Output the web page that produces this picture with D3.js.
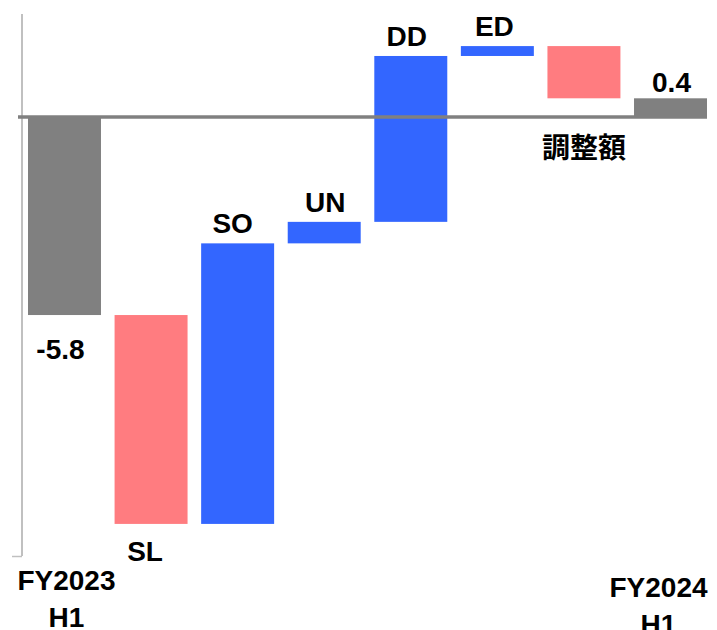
<!DOCTYPE html>
<html>
<head>
<meta charset="utf-8">
<script src="https://cdn.jsdelivr.net/npm/d3@7"></script>
<style>
  html, body { margin: 0; padding: 0; background: #fff; }
  svg { display: block; }
  .lbl { font-family: "Liberation Sans", Arial, sans-serif; font-weight: bold; font-size: 28px; fill: #000; }
  .cjk { font-family: "Noto Sans CJK JP", "Noto Sans CJK SC", sans-serif; font-weight: bold; font-size: 28px; fill: #000; }
</style>
</head>
<body>
<svg id="chart" width="717" height="630"></svg>
<script>
// ---- data ----
const categories = ["FY2023 H1", "SL", "SO", "UN", "DD", "ED", "調整額", "FY2024 H1"];
const kinds      = ["total", "delta", "delta", "delta", "delta", "delta", "delta", "total"];
const values     = [-5.8, -6.12, 8.22, 0.63, 4.86, 0.29, -1.53, null]; // last = running total
const valueLabels = ["-5.8", null, null, null, null, null, null, "0.4"];
const categoryLines = [["FY2023", "H1"], ["SL"], ["SO"], ["UN"], ["DD"], ["ED"], ["調整額"], ["FY2024", "H1"]];

const colors = { total: "#808080", up: "#3366ff", down: "#ff7c80" };

// ---- build waterfall segments ----
let running = 0;
const bars = categories.map((c, i) => {
  let y0, y1, type;
  if (kinds[i] === "total") {
    const v = values[i] === null ? running : values[i];
    running = v;
    y0 = 0; y1 = v; type = "total";
  } else {
    y0 = running; y1 = running + values[i]; running = y1;
    type = values[i] >= 0 ? "up" : "down";
  }
  return { cat: c, i, y0, y1, type, lo: Math.min(y0, y1), hi: Math.max(y0, y1) };
});

const svg = d3.select("#chart");
const x = d3.scaleBand().domain(categories).range([28, 707]).paddingInner(0.157).paddingOuter(0);
const y = d3.scaleLinear().domain([-12.86, 3.02]).range([556, 14]);

// label horizontal nudges (layout only)
const labelDx = [2, -6, -5, 1, -4, -3, 0, -12];

// y axis (no labels)
const yAxis = d3.axisLeft(y).tickValues([-12.86]).tickSize(10).tickFormat("");
const ga = svg.append("g").attr("transform", "translate(22,0)").call(yAxis);
ga.select(".domain").attr("stroke", "#c0c0c0").attr("stroke-width", 2).attr("d", `M0,${y(3.02)}V${y(-12.86)}`);
ga.selectAll(".tick line").attr("stroke", "#c0c0c0").attr("stroke-width", 1.5);

// bars
svg.append("g").selectAll("rect").data(bars).join("rect")
  .attr("x", d => x(d.cat))
  .attr("width", x.bandwidth())
  .attr("y", d => y(d.hi))
  .attr("height", d => y(d.lo) - y(d.hi))
  .attr("fill", d => colors[d.type]);

// zero line
svg.append("line")
  .attr("x1", 18).attr("x2", 707)
  .attr("y1", y(0)).attr("y2", y(0))
  .attr("stroke", "#808080").attr("stroke-width", 3.5);

const cx = d => x(d.cat) + x.bandwidth() / 2;

// value labels for totals
bars.forEach(d => {
  const t = valueLabels[d.i];
  if (!t) return;
  const neg = d.y1 < 0;
  svg.append("text").attr("class", "lbl")
    .attr("x", cx(d) - (neg ? 4 : -1))
    .attr("y", neg ? y(d.lo) + 44 : y(d.hi) - 6)
    .attr("text-anchor", "middle")
    .text(t);
});

// category labels
bars.forEach(d => {
  const lines = categoryLines[d.i];
  let baseY;
  if (d.type === "total") {
    baseY = d.i === 0 ? 590 : 597;
  } else if (d.type === "up") {
    baseY = y(d.hi) - 10;
  } else if (d.i === 6) {
    baseY = y(0) + 41;
  } else {
    baseY = y(d.lo) + 37;
  }
  const lx = cx(d) + labelDx[d.i];
  const t = svg.append("text")
    .attr("class", /[\u3000-\u9fff]/.test(lines[0]) ? "cjk" : "lbl")
    .attr("text-anchor", "middle")
    .attr("x", lx)
    .attr("y", baseY);
  lines.forEach((ln, k) => {
    t.append("tspan").attr("x", lx).attr("dy", k === 0 ? 0 : 37).text(ln);
  });
});
</script>
</body>
</html>
